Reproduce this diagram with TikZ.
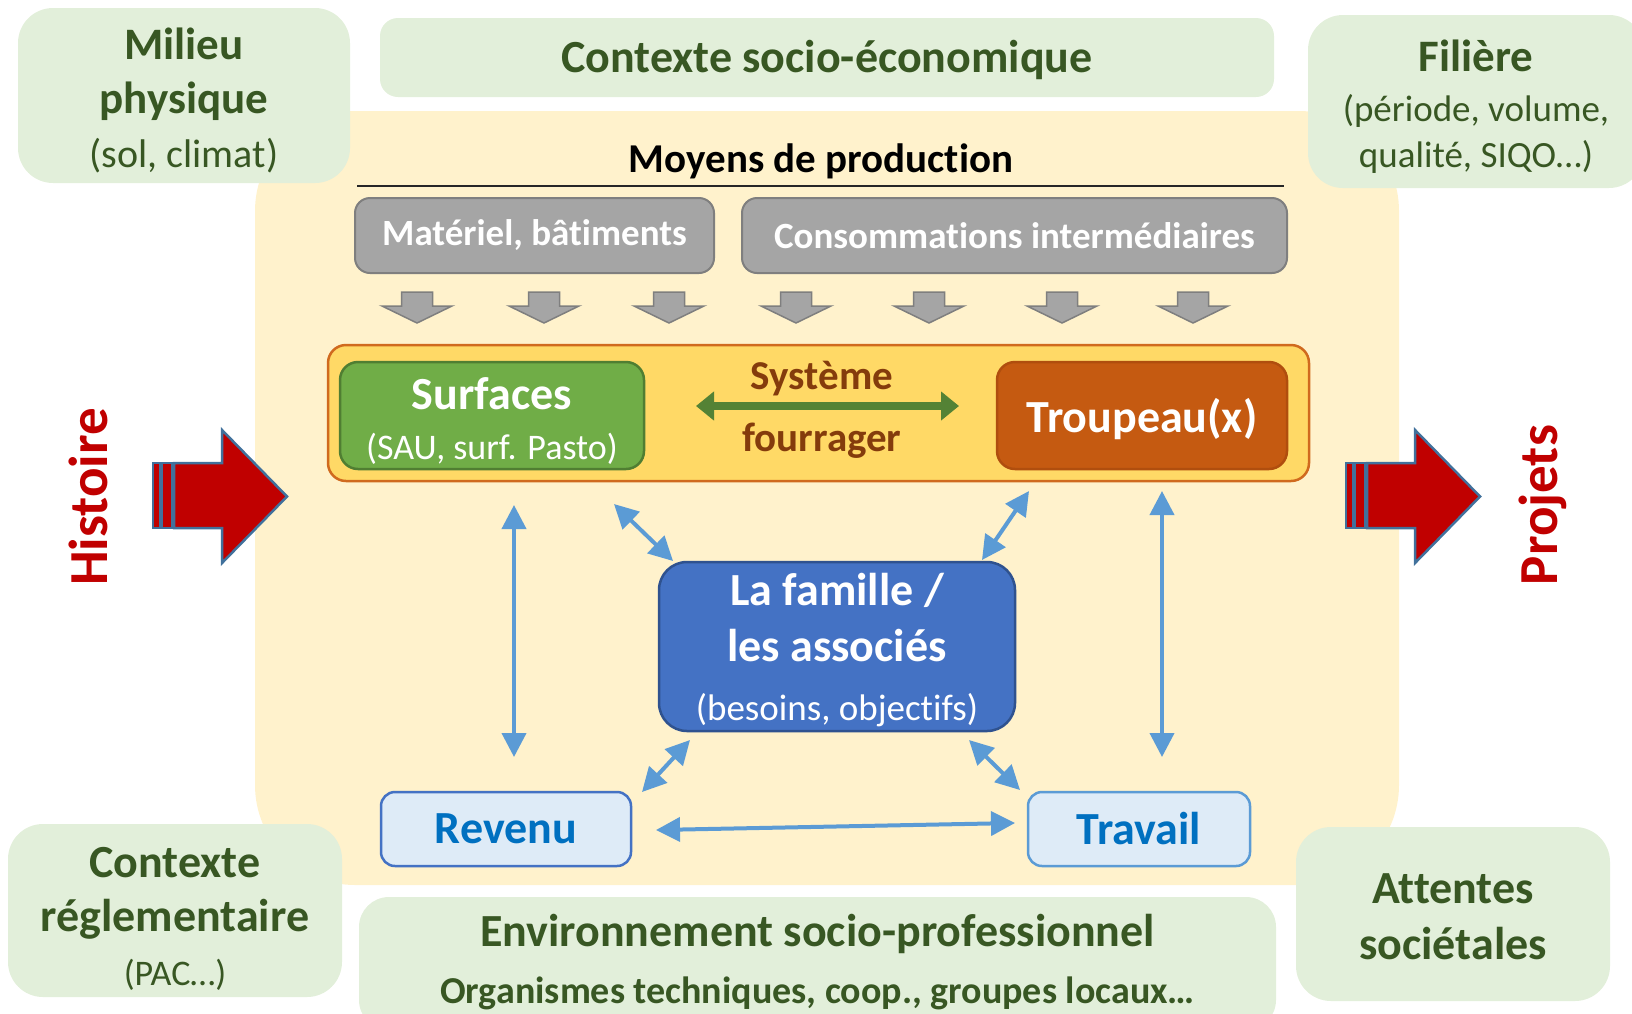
\documentclass[tikz,border=0pt]{standalone}
\usepackage{fontspec}
\setmainfont{Carlito}[Ligatures=NoCommon]
\usetikzlibrary{arrows.meta}
\definecolor{lgreen}{HTML}{E2EFDA}
\definecolor{dgreen}{HTML}{385723}
\definecolor{bgyellow}{HTML}{FFF2CC}
\definecolor{gfill}{HTML}{A5A5A5}
\definecolor{gline}{HTML}{7F7F7F}
\definecolor{fsfill}{HTML}{FFD966}
\definecolor{fsline}{HTML}{D06A1E}
\definecolor{surffill}{HTML}{70AD47}
\definecolor{surfline}{HTML}{507E32}
\definecolor{troufill}{HTML}{C55A11}
\definecolor{trouline}{HTML}{B04E0E}
\definecolor{famfill}{HTML}{4472C4}
\definecolor{famline}{HTML}{2F528F}
\definecolor{lblue}{HTML}{DEEBF7}
\definecolor{midblue}{HTML}{5B9BD5}
\definecolor{txtblue}{HTML}{0070C0}
\definecolor{sysbrown}{HTML}{843C0C}
\definecolor{arrowgreen}{HTML}{548235}
\definecolor{darkred}{HTML}{C00000}
\definecolor{redline}{HTML}{41719C}
\newcommand\fsz[2]{\fontsize{#1}{#2}\selectfont}
\begin{document}
\begin{tikzpicture}[x=1pt,y=-1pt,
  greenbox/.style={fill=lgreen, rounded corners=35, inner sep=0pt},
  greentext/.style={inner sep=0pt, align=center, text=dgreen},
  graybox/.style={fill=gfill, draw=gline, line width=2, rounded corners=15, inner sep=0pt, text=white, font=\fsz{37}{44}\bfseries},
  innerbox/.style={line width=2.5, rounded corners=18, inner sep=0pt},
  whitetext/.style={inner sep=0pt, align=center, text=white},
  smallbox/.style={fill=lblue, line width=2.5, rounded corners=14, inner sep=0pt, text=txtblue, font=\fsz{46}{50}\bfseries},
  barrow/.style={midblue, line width=4, {Triangle[length=24pt,width=24pt]}-{Triangle[length=24pt,width=24pt]}},
  grayarrow/.style={fill=gfill, draw=gline, line width=1.5},
  redarrow/.style={fill=darkred, draw=redline, line width=2.5},
  sidetext/.style={rotate=90, text=darkred, font=\fsz{55}{60}\bfseries, inner sep=0pt},
  systext/.style={text=sysbrown, font=\fsz{41}{48}\bfseries, inner sep=0pt}]
\useasboundingbox (0,0) rectangle (1632,1013);
\clip (0,0) rectangle (1632,1013);

% background
\node[fill=bgyellow, rounded corners=100, minimum width=1144, minimum height=774, inner sep=0pt] (bg) at (827,498) {};

% outer context boxes
\node[greenbox, minimum width=332, minimum height=175] (milieu) at (184,95.5) {};
\node[greentext, font=\fsz{45}{54}\bfseries] (milieu-t) at (184,100.5)
  {Milieu\\physique\\{\fsz{40}{54}\mdseries (sol, climat)}};
\node[greenbox, rounded corners=18, minimum width=894, minimum height=79] (ctxse) at (827,57.5) {};
\node[greentext, font=\fsz{46}{54}\bfseries] (ctxse-t) at (827,60) {Contexte socio-économique};
\node[greenbox, minimum width=336, minimum height=173] (filiere) at (1476,101.5) {};
\node[greentext, font=\fsz{45}{46}\bfseries] (filiere-t) at (1476,107)
  {Filière\\[4pt]{\fsz{37}{46}\mdseries (période, volume,}\\{\fsz{37}{46}\mdseries qualité, SIQO…)}};
\node[greenbox, minimum width=334, minimum height=173] (ctxreg) at (175,910.5) {};
\node[greentext, font=\fsz{46}{54}\bfseries] (ctxreg-t) at (175,918.5)
  {Contexte\\réglementaire\\{\fsz{36}{50}\mdseries (PAC…)}};
\node[greenbox, minimum width=314, minimum height=174] (attentes) at (1453,914) {};
\node[greentext, font=\fsz{46}{56}\bfseries] (attentes-t) at (1453,916.5) {Attentes\\sociétales};
\node[greenbox, rounded corners=30, minimum width=917, minimum height=133] (envt) at (817.5,963.5) {};
\node[greentext, font=\fsz{46}{57}\bfseries] (envt-t) at (817.5,962.5)
  {Environnement socio-professionnel\\{\fsz{38}{57}\bfseries Organismes techniques, coop., groupes locaux…}};

% moyens de production
\node[font=\fsz{41}{48}\bfseries, inner sep=0pt] (moyens) at (821,161) {Moyens de production};
\draw[line width=1.5, black!85] (357,186) -- (1284,186);
\node[graybox, minimum width=359, minimum height=75] (materiel) at (534.5,235.5) {\raisebox{-2pt}{Matériel, bâtiments}};
\node[graybox, minimum width=545, minimum height=75] (conso) at (1014.5,235.5) {\raisebox{-2pt}{Consommations intermédiaires}};
\foreach \cx in {417,544,669,796,929,1062,1193}{
  \draw[grayarrow] (\cx-15.5,292) -- (\cx+15.5,292) -- (\cx+15.5,306) -- (\cx+35,306)
     -- (\cx,323) -- (\cx-35,306) -- (\cx-15.5,306) -- cycle;
}

% systeme fourrager
\node[innerbox, fill=fsfill, draw=fsline, minimum width=981, minimum height=136] (fsys) at (818.5,413) {};
\node[innerbox, fill=surffill, draw=surfline, minimum width=304, minimum height=107] (surfaces) at (492,415.5) {};
\node[whitetext, font=\fsz{46}{50}\bfseries] (surfaces-t) at (492,421.5)
  {Surfaces\\{\fsz{36}{50}\mdseries (SAU, surf. Pasto)}};
\node[innerbox, fill=troufill, draw=trouline, minimum width=290, minimum height=107] (troupeau) at (1142,415.5) {};
\node[whitetext, font=\fsz{46}{50}\bfseries] (troupeau-t) at (1142,419.5) {Troupeau(x)};
\node[systext] (systeme) at (822,379) {Système};
\node[systext] (fourrager) at (822,441) {fourrager};
\coordinate (ga) at (696,406);
\coordinate (gb) at (959,406);
\draw[arrowgreen, line width=8, {Triangle[length=18pt,width=28pt]}-{Triangle[length=18pt,width=28pt]}] (ga) -- (gb);

% famille, revenu, travail
\node[innerbox, fill=famfill, draw=famline, rounded corners=28, minimum width=356, minimum height=169] (famille) at (837,646.5) {};
\node[whitetext, font=\fsz{46}{56}\bfseries] (famille-t) at (837,650)
  {La famille /\\les associés\\[3pt]{\fsz{37}{56}\mdseries (besoins, objectifs)}};
\node[smallbox, draw=famfill, minimum width=250, minimum height=74] (revenu) at (506,829) {Revenu};
\node[smallbox, draw=midblue, minimum width=222, minimum height=74] (travail) at (1139,829) {Travail};

% blue connectors
\coordinate (v1a) at (514,505);  \coordinate (v1b) at (514,757);
\coordinate (v2a) at (1162,491); \coordinate (v2b) at (1162,757);
\coordinate (d1a) at (614,504);  \coordinate (d1b) at (673,561);
\coordinate (d2a) at (1029,491); \coordinate (d2b) at (982,560);
\coordinate (d3a) at (690,740);  \coordinate (d3b) at (642,792);
\coordinate (d4a) at (969,740);  \coordinate (d4b) at (1020,790);
\coordinate (h1a) at (656,830);  \coordinate (h1b) at (1015,823);
\draw[barrow] (v1a) -- (v1b);
\draw[barrow] (v2a) -- (v2b);
\draw[barrow] (d1a) -- (d1b);
\draw[barrow] (d2a) -- (d2b);
\draw[barrow] (d3a) -- (d3b);
\draw[barrow] (d4a) -- (d4b);
\draw[barrow] (h1a) -- (h1b);

% red block arrows
\foreach \dx in {0,1193}{
  \begin{scope}[xshift=\dx]
    \draw[redarrow] (153,463) rectangle (160,528);
    \draw[redarrow] (162,463) rectangle (172,528);
    \draw[redarrow] (174,463) -- (222,463) -- (222,430) -- (287,496.5) -- (222,563) -- (222,528) -- (174,528) -- cycle;
  \end{scope}
}
\node[sidetext] (histoire) at (88,497) {Histoire};
\node[sidetext] (projets) at (1543,505) {Projets};
\end{tikzpicture}
\end{document}
